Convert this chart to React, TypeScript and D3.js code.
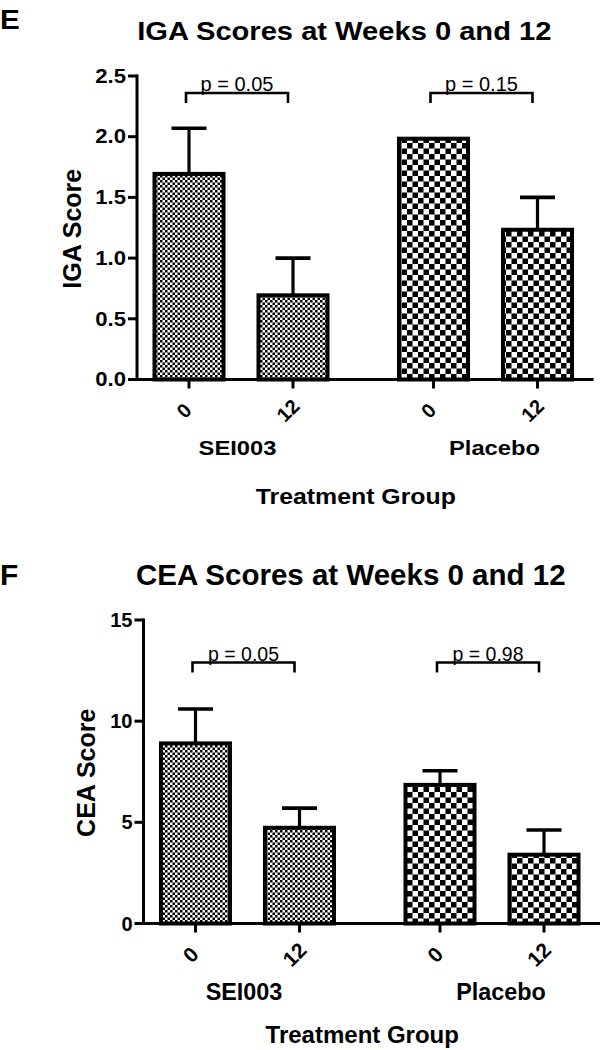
import React from 'react';
import * as d3 from 'd3';

// ---------- data ----------
const groups = ['SEI003', 'Placebo'];
const weeks = ['0', '12'];

// Panel E: IGA scores
const igaMeans = [[1.71, 0.71], [2.0, 1.25]];
const igaSem = [[0.36, 0.29], [0.0, 0.25]];
const igaTicks = [0, 0.5, 1.0, 1.5, 2.0, 2.5];
const igaP = ['p = 0.05', 'p = 0.15'];
const igaBracket = 2.36;

// Panel F: CEA scores
const ceaMeans = [[9.0, 4.83], [6.95, 3.5]];
const ceaSem = [[1.6, 0.87], [0.6, 1.12]];
const ceaTicks = [0, 5, 10, 15];
const ceaP = ['p = 0.05', 'p = 0.98'];
const ceaBracket = 12.9;

const FONT = '"Liberation Sans", Arial, Helvetica, sans-serif';

type TxtProps = {
  x: number; y: number; size: number; sx?: number; rot?: number;
  anchor?: string; weight?: string | number; baseline?: string; children: React.ReactNode;
};
const Txt = ({ x, y, size, sx = 1, rot = 0, anchor = 'middle', weight = 'bold', baseline, children }: TxtProps) => (
  <text
    transform={`translate(${x},${y}) rotate(${rot}) scale(${sx},1)`}
    fontSize={size}
    fontFamily={FONT}
    fontWeight={weight}
    textAnchor={anchor}
    dominantBaseline={baseline}
    fill="#000"
  >
    {children}
  </text>
);

type PanelProps = {
  letter: string; letterY: number; letterSize: number; letterSx: number;
  title: string; titleY: number; titleSize: number; titleSx: number;
  axisX: number; xEnd: number; y0: number; yTop: number; yMax: number;
  ticks: number[]; tickFmt: string; tickSize: number; tickSx: number;
  ylabel: string; ylabelX: number; ylabelSize: number;
  means: number[][]; sems: number[][]; pTexts: string[]; bracketVal: number; pSize: number;
  groupY: number; groupSize: number; groupSx: number;
  xlabY: number; xlabSize: number; xlabSx: number;
  xtickSize: number;
  patterns: string[];
};

const Panel = (p: PanelProps) => {
  const step = 244.5;
  const groupW = 208;
  const outer = d3.scaleBand<string>()
    .domain(groups)
    .range([p.axisX, p.axisX + step * (groups.length - 0.149)])
    .paddingInner(0.149)
    .paddingOuter(0);
  const inner = d3.scaleBand<string>()
    .domain(weeks)
    .range([0, groupW])
    .paddingInner(0.298)
    .paddingOuter(0.149);
  const y = d3.scaleLinear().domain([0, p.yMax]).range([p.y0, p.yTop]);
  const fmt = d3.format(p.tickFmt);
  const bw = inner.bandwidth();
  const mid = (p.axisX + p.xEnd) / 2;
  const groupShift = [-3.5, 9];

  return (
    <g>
      <Txt x={0} y={p.letterY} size={p.letterSize} sx={p.letterSx} anchor="start">{p.letter}</Txt>
      <Txt x={mid - 19} y={p.titleY} size={p.titleSize} sx={p.titleSx}>{p.title}</Txt>

      {/* y axis */}
      <line x1={p.axisX} x2={p.axisX} y1={y(p.yMax) - 1.5} y2={p.y0 + 1.5} stroke="#000" strokeWidth={3} />
      {p.ticks.map((t) => (
        <g key={t}>
          <line x1={p.axisX - 9} x2={p.axisX} y1={y(t)} y2={y(t)} stroke="#000" strokeWidth={3} />
          <Txt x={p.axisX - 11} y={y(t)} size={p.tickSize} sx={p.tickSx} anchor="end" baseline="central">{fmt(t)}</Txt>
        </g>
      ))}
      <Txt x={p.ylabelX} y={(p.y0 + p.yTop) / 2 + 1} size={p.ylabelSize} rot={-90}>{p.ylabel}</Txt>

      {/* bars */}
      {groups.map((g, gi) => {
        const gx = outer(g) as number;
        const c0 = gx + (inner(weeks[0]) as number) + bw / 2;
        const c1 = gx + (inner(weeks[1]) as number) + bw / 2;
        const by = y(p.bracketVal);
        return (
          <g key={g}>
            {weeks.map((w, wi) => {
              const bx = gx + (inner(w) as number);
              const v = p.means[gi][wi];
              const e = p.sems[gi][wi];
              const cx = bx + bw / 2;
              return (
                <g key={w}>
                  {e > 0 && (
                    <g>
                      <line x1={cx} x2={cx} y1={y(v) + 2} y2={y(v + e)} stroke="#000" strokeWidth={3.2} />
                      <line x1={cx - 17.5} x2={cx + 17.5} y1={y(v + e)} y2={y(v + e)} stroke="#000" strokeWidth={3.6} />
                    </g>
                  )}
                  <rect x={bx + 2} y={y(v) + 2} width={bw - 4} height={p.y0 - y(v) - 2}
                    fill={`url(#${p.patterns[gi]})`} stroke="#000" strokeWidth={4} />
                  <line x1={cx} x2={cx} y1={p.y0} y2={p.y0 + 9} stroke="#000" strokeWidth={3} />
                  <Txt x={cx - 5} y={p.y0 + 31} size={p.xtickSize} rot={-45} baseline="central">{w}</Txt>
                </g>
              );
            })}
            {/* significance bracket */}
            <path d={`M${c0 - 3},${by + 10}V${by}H${c1 - 5}V${by + 10}`} fill="none" stroke="#000" strokeWidth={2.6} />
            <Txt x={(c0 + c1) / 2 - 4} y={by - 1.5} size={p.pSize} weight="normal">{p.pTexts[gi]}</Txt>
            <Txt x={(c0 + c1) / 2 + groupShift[gi]} y={p.groupY} size={p.groupSize} sx={p.groupSx}>{g}</Txt>
          </g>
        );
      })}

      {/* x axis */}
      <line x1={p.axisX - 1.5} x2={p.xEnd + 4} y1={p.y0} y2={p.y0} stroke="#000" strokeWidth={3} />
      <Txt x={mid - 7.5} y={p.xlabY} size={p.xlabSize} sx={p.xlabSx}>Treatment Group</Txt>
    </g>
  );
};

export default function App() {
  return (
    <svg width={601} height={1050} style={{ position: 'absolute', left: 0, top: 0, background: '#fff' }}>
      <defs>
        <pattern id="fine" width={5} height={5} patternUnits="userSpaceOnUse">
          <rect width={5} height={5} fill="#fff" />
          <rect width={2.5} height={2.5} fill="#000" />
          <rect x={2.5} y={2.5} width={2.5} height={2.5} fill="#000" />
        </pattern>
        <pattern id="coarse" width={11} height={11} patternUnits="userSpaceOnUse">
          <rect width={11} height={11} fill="#fff" />
          <rect width={5.5} height={5.5} fill="#000" />
          <rect x={5.5} y={5.5} width={5.5} height={5.5} fill="#000" />
        </pattern>
      </defs>
      <rect width={601} height={1050} fill="#fff" />
      <Panel
        letter="E" letterY={29} letterSize={27} letterSx={1.1}
        title="IGA Scores at Weeks 0 and 12" titleY={40} titleSize={26} titleSx={1.12}
        axisX={137} xEnd={589.6} y0={379.5} yTop={76} yMax={2.5}
        ticks={igaTicks} tickFmt=".1f" tickSize={20.5} tickSx={1.08}
        ylabel="IGA Score" ylabelX={81} ylabelSize={25}
        means={igaMeans} sems={igaSem} pTexts={igaP} bracketVal={igaBracket} pSize={20}
        groupY={455} groupSize={21} groupSx={1.13}
        xlabY={504} xlabSize={22} xlabSx={1.13}
        xtickSize={20}
        patterns={['fine', 'coarse']}
      />
      <Panel
        letter="F" letterY={585} letterSize={30} letterSx={1}
        title="CEA Scores at Weeks 0 and 12" titleY={585} titleSize={29.5} titleSx={1}
        axisX={143.5} xEnd={596} y0={923.5} yTop={620} yMax={15}
        ticks={ceaTicks} tickFmt="d" tickSize={20} tickSx={1}
        ylabel="CEA Score" ylabelX={95} ylabelSize={25}
        means={ceaMeans} sems={ceaSem} pTexts={ceaP} bracketVal={ceaBracket} pSize={19.5}
        groupY={1000} groupSize={23.4} groupSx={1}
        xlabY={1043} xlabSize={24} xlabSx={1}
        xtickSize={21}
        patterns={['fine', 'coarse']}
      />
    </svg>
  );
}
